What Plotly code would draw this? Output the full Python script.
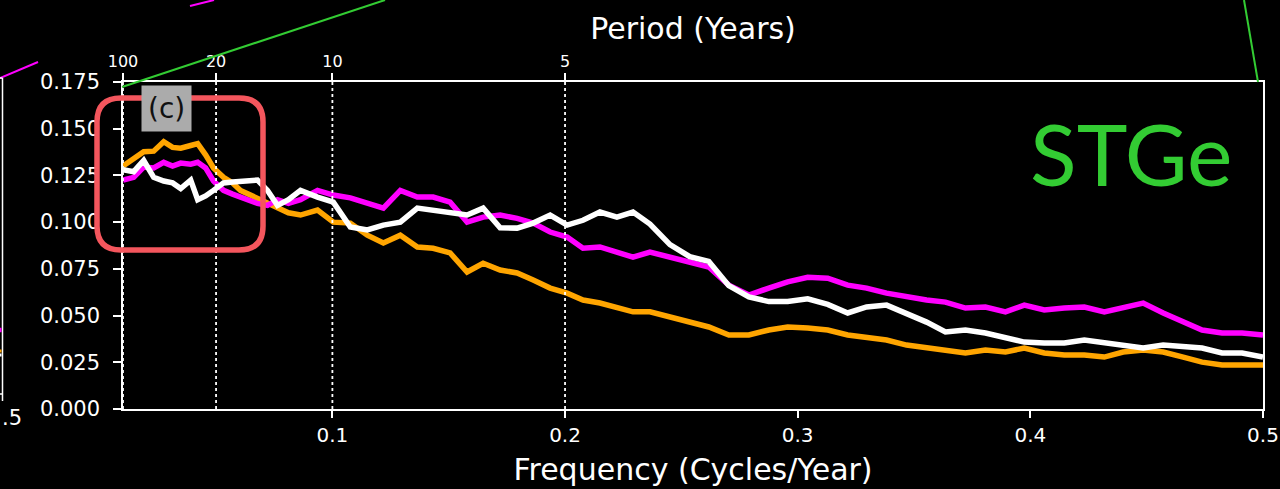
import plotly.graph_objects as go

# Frequency grid (cycles / year)
freq = [0.0100, 0.0146, 0.0189, 0.0232, 0.0275, 0.0313, 0.0348, 0.0391, 0.0421, 0.0455,
        0.0489, 0.0532, 0.0571, 0.0605, 0.0639, 0.0678, 0.0721, 0.0764, 0.0811, 0.0863,
        0.0936, 0.1004, 0.1077, 0.1150, 0.1219, 0.1292, 0.1365, 0.1433, 0.1506, 0.1579,
        0.1648, 0.1721, 0.1794, 0.1863, 0.1936, 0.2009, 0.2077, 0.2150, 0.2223, 0.2292,
        0.2365, 0.2451, 0.2536, 0.2618, 0.2704, 0.2790, 0.2876, 0.2957, 0.3043, 0.3129,
        0.3215, 0.3296, 0.3382, 0.3468, 0.3554, 0.3635, 0.3721, 0.3807, 0.3893, 0.3974,
        0.4060, 0.4146, 0.4232, 0.4318, 0.4399, 0.4485, 0.4571, 0.4657, 0.4738, 0.4824,
        0.4910, 0.5000]

spec_orange = [0.130, 0.134, 0.1377, 0.138, 0.143, 0.140, 0.1396, 0.141, 0.142, 0.136,
               0.129, 0.124, 0.121, 0.117, 0.115, 0.112, 0.110, 0.1075, 0.105, 0.1038,
               0.1065, 0.100, 0.0995, 0.093, 0.0888, 0.093, 0.0867, 0.086, 0.0835, 0.0733,
               0.078, 0.0744, 0.0728, 0.069, 0.0647, 0.062, 0.0583, 0.0567, 0.0546, 0.052,
               0.052, 0.0492, 0.046, 0.0439, 0.0396, 0.0396, 0.0423, 0.0439, 0.0433, 0.0423,
               0.0396, 0.038, 0.0369, 0.0342, 0.0326, 0.0316, 0.030, 0.0316, 0.0305, 0.0326,
               0.030, 0.0289, 0.0289, 0.0278, 0.0305, 0.0316, 0.0305, 0.0278, 0.0251, 0.0235,
               0.0235, 0.0235]

spec_magenta = [0.1225, 0.124, 0.1295, 0.129, 0.132, 0.130, 0.1316, 0.131, 0.132, 0.129,
                0.122, 0.117, 0.115, 0.1134, 0.112, 0.110, 0.109, 0.112, 0.110, 0.112,
                0.117, 0.1145, 0.113, 0.110, 0.1075, 0.117, 0.1134, 0.1134, 0.1107, 0.100,
                0.1027, 0.1038, 0.102, 0.0995, 0.0947, 0.092, 0.086, 0.0867, 0.084, 0.0813,
                0.084, 0.0813, 0.0787, 0.076, 0.0663, 0.061, 0.0647, 0.068, 0.0705, 0.070,
                0.0663, 0.0647, 0.062, 0.060, 0.0583, 0.0572, 0.054, 0.0546, 0.052, 0.0556,
                0.053, 0.054, 0.0546, 0.052, 0.054, 0.0567, 0.0514, 0.0465, 0.0423, 0.0407,
                0.0407, 0.0396]

spec_white = [0.128, 0.127, 0.133, 0.124, 0.122, 0.121, 0.118, 0.1225, 0.112, 0.114,
              0.117, 0.121, 0.1215, 0.122, 0.1225, 0.1225, 0.117, 0.109, 0.112, 0.117,
              0.1134, 0.1107, 0.0974, 0.0958, 0.0984, 0.100, 0.1075, 0.1065, 0.1054, 0.1038,
              0.1075, 0.097, 0.0968, 0.0995, 0.1038, 0.0984, 0.101, 0.1054, 0.1027, 0.1054,
              0.099, 0.088, 0.0815, 0.079, 0.066, 0.060, 0.0575, 0.0575, 0.059, 0.056,
              0.0514, 0.0546, 0.0556, 0.0514, 0.0465, 0.0412, 0.0423, 0.0407, 0.038, 0.0358,
              0.0353, 0.0353, 0.0369, 0.0353, 0.0342, 0.0326, 0.0342, 0.0332, 0.0326, 0.030,
              0.030, 0.0278]

# Axis ticks
freq_ticks = [0.1, 0.2, 0.3, 0.4, 0.5]
freq_ticklabels = ["0.1", "0.2", "0.3", "0.4", "0.5"]
period_ticks = [100, 20, 10, 5]
power_ticks = [0.0, 0.025, 0.05, 0.075, 0.1, 0.125, 0.15, 0.175]

FONT = "DejaVu Sans"
W, H = 1280, 489
L, R, T, B = 123, 17, 82, 80
PW, PH = W - L - R, H - T - B


def px(x):
    return (x - L) / PW


def py(y):
    return (H - B - y) / PH


fig = go.Figure()

# Dotted guides at the labelled periods
gx, gy = [], []
for p in period_ticks:
    gx += [1.0 / p, 1.0 / p, None]
    gy += [0.0, 0.175, None]
fig.add_trace(go.Scatter(x=gx, y=gy, mode="lines", xaxis="x2", yaxis="y",
                         line=dict(color="white", width=1.8, dash="dot"),
                         hoverinfo="skip", showlegend=False))

for vals, col in [(spec_orange, "#FFA500"), (spec_magenta, "#FF00FF"), (spec_white, "#FFFFFF")]:
    fig.add_trace(go.Scatter(x=freq, y=vals, mode="lines",
                             line=dict(color=col, width=5.5), showlegend=False))

axis_common = dict(showline=True, linecolor="white", linewidth=1.5, showgrid=False,
                   zeroline=False, ticks="outside", tickcolor="white", tickwidth=1.5,
                   automargin=False)

fig.update_layout(
    width=W, height=H,
    margin=dict(l=L, r=R, t=T, b=B, pad=0, autoexpand=False),
    paper_bgcolor="black", plot_bgcolor="black",
    font=dict(family=FONT, color="white"),
    xaxis=dict(range=[0.01, 0.5], tickvals=freq_ticks, ticktext=freq_ticklabels,
               ticklen=7, tickfont=dict(size=20, color="white"), mirror=True,
               title=dict(text="Frequency (Cycles/Year)", font=dict(size=30, color="white"),
                          standoff=13),
               **axis_common),
    xaxis2=dict(range=[0.01, 0.5], overlaying="x", side="top", anchor="y",
                tickvals=[1.0 / p for p in period_ticks],
                ticktext=[str(p) for p in period_ticks],
                ticklen=7, tickfont=dict(size=16, color="white"),
                title=dict(text="Period (Years)", font=dict(size=30, color="white"),
                           standoff=3),
                **axis_common),
    yaxis=dict(range=[0, 0.175], tickvals=power_ticks, tickformat=".3f",
               ticklen=8, ticklabelstandoff=9, tickfont=dict(size=21, color="white"),
               mirror=True, **axis_common),
)


# Rounded highlight box
def rounded_rect(x0, y0, x1, y1, r):
    X0, X1 = px(x0), px(x1)
    Y0, Y1 = py(y0), py(y1)
    rx, ry = r / PW, r / PH
    return (f"M {X0 + rx} {Y0} L {X1 - rx} {Y0} Q {X1} {Y0} {X1} {Y0 - ry} "
            f"L {X1} {Y1 + ry} Q {X1} {Y1} {X1 - rx} {Y1} "
            f"L {X0 + rx} {Y1} Q {X0} {Y1} {X0} {Y1 + ry} "
            f"L {X0} {Y0 - ry} Q {X0} {Y0} {X0 + rx} {Y0} Z")


shapes = [
    dict(type="path", xref="paper", yref="paper", path=rounded_rect(97, 98, 263, 250, 24),
         line=dict(color="#F4565D", width=5.5), layer="above"),
    # connector lines
    dict(type="line", xref="paper", yref="paper", x0=px(122), y0=py(87), x1=px(385), y1=py(0),
         line=dict(color="#33CC33", width=2)),
    dict(type="line", xref="paper", yref="paper", x0=px(1244), y0=py(0), x1=px(1258), y1=py(82),
         line=dict(color="#33CC33", width=2)),
    dict(type="line", xref="paper", yref="paper", x0=px(0), y0=py(78), x1=px(38), y1=py(62),
         line=dict(color="#FF00FF", width=2)),
    dict(type="line", xref="paper", yref="paper", x0=px(190), y0=py(6), x1=px(214), y1=py(0),
         line=dict(color="#FF00FF", width=2)),
    # neighbouring panel edge
    dict(type="line", xref="paper", yref="paper", x0=px(2.5), y0=py(78), x1=px(2.5), y1=py(401),
         line=dict(color="white", width=1.5)),
    dict(type="line", xref="paper", yref="paper", x0=px(-5), y0=py(78), x1=px(2.5), y1=py(78),
         line=dict(color="white", width=1.5)),
    dict(type="line", xref="paper", yref="paper", x0=px(-5), y0=py(394), x1=px(2.5), y1=py(394),
         line=dict(color="white", width=1.5)),
    dict(type="line", xref="paper", yref="paper", x0=px(-5), y0=py(330), x1=px(1.5), y1=py(330),
         line=dict(color="#FF00FF", width=4.5)),
    dict(type="line", xref="paper", yref="paper", x0=px(-5), y0=py(351), x1=px(1.5), y1=py(351),
         line=dict(color="#FFA500", width=3)),
    dict(type="line", xref="paper", yref="paper", x0=px(-5), y0=py(355), x1=px(1.5), y1=py(355),
         line=dict(color="white", width=3)),
]
fig.update_layout(shapes=shapes)

fig.add_annotation(x=px(166), y=py(108), xref="paper", yref="paper", text="(c)",
                   showarrow=False, font=dict(family=FONT, size=28, color="#111111"),
                   bgcolor="#ababab", borderpad=6, xanchor="center", yanchor="middle")
fig.add_annotation(x=px(1131), y=py(152), xref="paper", yref="paper", text="STGe",
                   showarrow=False, font=dict(family="Lato", size=86, color="#33CC33"),
                   xanchor="center", yanchor="middle")
fig.add_annotation(x=px(0), y=py(418), xref="paper", yref="paper", text=".5",
                   showarrow=False, font=dict(family=FONT, size=21, color="white"),
                   xanchor="left", yanchor="middle")

fig.write_html("out.html")
